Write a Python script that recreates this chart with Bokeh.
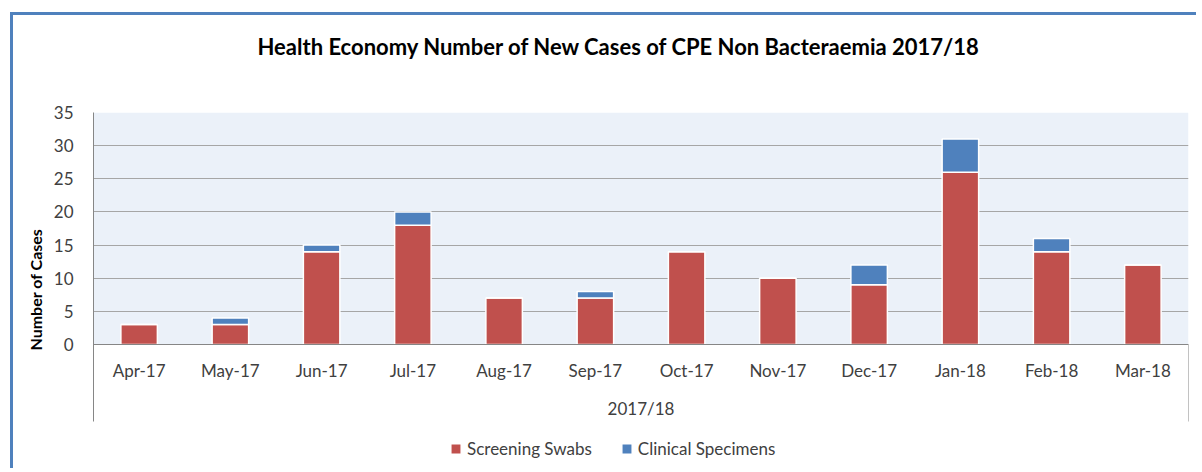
from bokeh.plotting import figure
from bokeh.models import (FactorRange, Range1d, FixedTicker, Legend, LegendItem,
                          Title, Grid, ColumnDataSource)
from bokeh.transform import dodge
from bokeh.embed import file_html
from bokeh.resources import INLINE

# ---- data ----
months = ["Apr-17", "May-17", "Jun-17", "Jul-17", "Aug-17", "Sep-17",
          "Oct-17", "Nov-17", "Dec-17", "Jan-18", "Feb-18", "Mar-18"]
screening_swabs = [3, 3, 14, 18, 7, 7, 14, 10, 9, 26, 14, 12]
clinical_specimens = [0, 1, 1, 2, 0, 1, 0, 0, 3, 5, 2, 0]
series_names = ["Screening Swabs", "Clinical Specimens"]
y_ticks = [0, 5, 10, 15, 20, 25, 30, 35]
title_text = "Health Economy Number of New Cases of CPE Non Bacteraemia 2017/18"
y_label = "Number of Cases"
x_group_label = "2017/18"

# ---- style / layout (pixels) ----
FONT = "Lato"
RED = "#C0504D"
BLUE = "#4F81BD"
GRAY = "#868686"
PLOT_BG = "#EBF1F9"
W, H = 1186, 456
ML, MR, MT, MB = 80, 11, 97, 5
FRAME_TOP, ZERO_Y, FRAME_BOTTOM, BOX_BOTTOM = 97, 329, 451, 406
Y_MAX = y_ticks[-1]
UNIT = (ZERO_Y - FRAME_TOP) / Y_MAX                 # pixels per case
Y_MIN = -(FRAME_BOTTOM - ZERO_Y) / UNIT             # room below zero for labels/legend
Y_BOX = -(BOX_BOTTOM - ZERO_Y) / UNIT               # bottom of the category box lines

source = ColumnDataSource(dict(month=months,
                               **{series_names[0]: screening_swabs,
                                  series_names[1]: clinical_specimens}))

p = figure(width=W, height=H, x_range=FactorRange(factors=months),
           y_range=Range1d(Y_MIN, Y_MAX), output_backend="svg", toolbar_location=None,
           title=None,
           min_border_left=ML, min_border_right=MR, min_border_top=MT,
           min_border_bottom=MB)
p.styles = {"margin-left": "10px", "margin-top": "12px",
            "border-left": "3px solid " + BLUE, "border-top": "3px solid " + BLUE}
p.background_fill_color = "white"
p.border_fill_color = "white"
p.outline_line_color = None

# plot-area background (0..35) via grid bands, then gridlines on top
p.xgrid.grid_line_color = None
p.ygrid.ticker = FixedTicker(ticks=[0, Y_MAX])
p.ygrid.grid_line_color = None
p.ygrid.band_fill_color = PLOT_BG
p.ygrid.band_fill_alpha = 1
band2 = Grid(dimension=1, ticker=FixedTicker(ticks=[0, 0, Y_MAX]),
             grid_line_color=None, band_fill_color=PLOT_BG, band_fill_alpha=1)
lines = Grid(dimension=1, ticker=FixedTicker(ticks=y_ticks),
             grid_line_color="#A6A6A6", grid_line_width=1.2)
p.add_layout(band2)
p.add_layout(lines)

renderers = p.vbar_stack(series_names, x="month", width=0.4, color=[RED, BLUE],
                         source=source, line_color="white", line_width=1.5)

# right-hand edge line of the category box
edge_src = ColumnDataSource(dict(edge=[months[-1]], y0=[0], y1=[Y_BOX]))
p.segment(x0=dodge("edge", 0.5, range=p.x_range), y0="y0",
          x1=dodge("edge", 0.5, range=p.x_range), y1="y1",
          source=edge_src, line_color=GRAY, line_width=1)

# title (a blank spacer panel sits between the title and the plot area)
p.add_layout(Title(text=" ", text_font_size="1px", standoff=50), "above")
p.add_layout(Title(text=title_text, align="left", offset=164, standoff=0,
                   text_font=FONT, text_font_size="22px", text_font_style="bold",
                   text_color="black"), "above")

# y axis
p.yaxis.ticker = FixedTicker(ticks=y_ticks)
p.yaxis.bounds = (Y_BOX, Y_MAX)
p.yaxis.axis_line_color = GRAY
p.yaxis.major_tick_line_color = None
p.yaxis.major_tick_out = 0
p.yaxis.minor_tick_line_color = None
p.yaxis.major_label_standoff = 20
p.yaxis.major_label_text_font = FONT
p.yaxis.major_label_text_font_size = "17px"
p.yaxis.major_label_text_color = "#404040"
p.yaxis.axis_label = y_label
p.yaxis.axis_label_text_font = FONT
p.yaxis.axis_label_text_font_size = "16px"
p.yaxis.axis_label_text_font_style = "bold"
p.yaxis.axis_label_text_color = "black"
p.yaxis.axis_label_standoff = 6

# x axis (categories), drawn at y = 0
p.xaxis.fixed_location = 0
p.xaxis.axis_line_color = GRAY
p.xaxis.major_tick_line_color = None
p.xaxis.major_tick_out = 0
p.xaxis.minor_tick_line_color = None
p.xaxis.major_label_standoff = 15
p.xaxis.major_label_text_font = FONT
p.xaxis.major_label_text_font_size = "17px"
p.xaxis.major_label_text_color = "#404040"
p.xaxis.axis_label = x_group_label
p.xaxis.axis_label_text_font = FONT
p.xaxis.axis_label_text_font_size = "17px"
p.xaxis.axis_label_text_font_style = "normal"
p.xaxis.axis_label_text_color = "#404040"
p.xaxis.axis_label_standoff = 14

# legend (inside the plot frame, under the category box)
legend = Legend(items=[LegendItem(label=n, renderers=[r]) for n, r in zip(series_names, renderers)],
                orientation="horizontal", location=(356, 7),
                glyph_width=13, glyph_height=13, label_height=10,
                label_standoff=5, spacing=28, padding=0, margin=0,
                border_line_color=None, background_fill_alpha=0,
                label_text_font=FONT, label_text_font_size="17px",
                label_text_color="#404040")
p.add_layout(legend)

open("out.html", "w").write(file_html(p, INLINE))
